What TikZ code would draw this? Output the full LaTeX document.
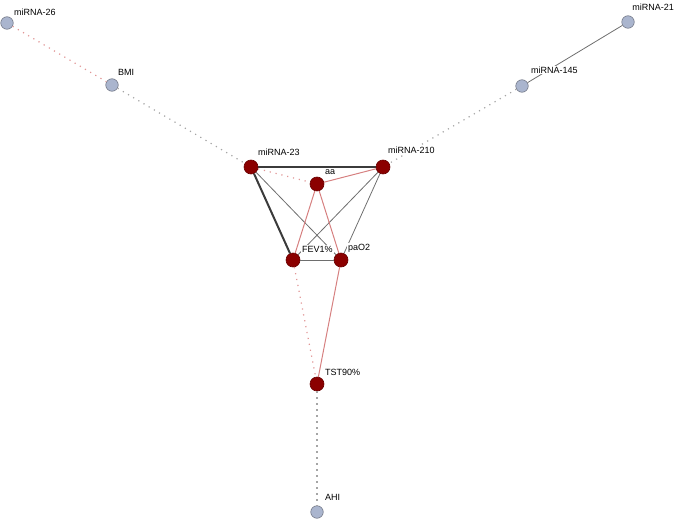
\documentclass[tikz,border=0pt]{standalone}
\usepackage{fontspec}
\setmainfont{Liberation Sans}

\definecolor{corered}{RGB}{139,0,0}
\definecolor{coreline}{RGB}{105,0,0}
\definecolor{leafblue}{RGB}{170,181,206}
\definecolor{leafline}{RGB}{115,120,135}
\definecolor{posline}{RGB}{85,85,85}
\definecolor{negline}{RGB}{214,128,128}
\definecolor{dotpink}{RGB}{225,150,150}
\definecolor{dotgray}{RGB}{165,165,165}

\tikzset{
  core/.style={circle, fill=corered, draw=coreline, line width=0.6pt, minimum size=14pt, inner sep=0pt},
  leaf/.style={circle, fill=leafblue, draw=leafline, line width=0.6pt, minimum size=12.5pt, inner sep=0pt},
  lbl/.style={anchor=west, fill=white, inner sep=1pt, font=\fontsize{9}{11}\selectfont},
  strong/.style={posline!70!black, line width=2pt},
  weak/.style={posline!85!white, line width=0.8pt},
  red edge/.style={negline, line width=1pt},
  pink dots/.style={dotpink, line width=1.2pt, dash pattern=on 1.2pt off 4.8pt},
  gray dots/.style={dotgray, line width=1.2pt, dash pattern=on 1.2pt off 4.8pt}
}

\begin{document}
\begin{tikzpicture}[x=1pt,y=-1pt]

\useasboundingbox (0,0) rectangle (675,519);

% Core variables (red)
\node[core] (mir23) at (251,167) {};
\node[core] (mir210) at (383,167) {};
\node[core] (aa) at (317,184) {};
\node[core] (fev) at (293,260) {};
\node[core] (pao) at (341,260) {};
\node[core] (tst) at (317,384) {};

% Outer variables (blue)
\node[leaf] (mir26) at (7,23) {};
\node[leaf] (bmi) at (112,85) {};
\node[leaf] (mir21) at (628,22) {};
\node[leaf] (mir145) at (522,86) {};
\node[leaf] (ahi) at (317,512) {};

% Edges inside the triangle
\draw[strong] (mir23) -- (mir210);
\draw[strong] (mir23) -- (fev);
\draw[weak] (mir23) -- (pao);
\draw[weak] (mir210) -- (fev);
\draw[weak] (mir210) -- (pao);
\draw[weak] (fev) -- (pao);
\draw[red edge] (mir210) -- (aa);
\draw[red edge] (aa) -- (fev);
\draw[red edge] (aa) -- (pao);
\draw[red edge] (pao) -- (tst);
\draw[pink dots] (mir23) -- (aa);
\draw[pink dots] (fev) -- (tst);

% Branches to the outer nodes
\draw[pink dots] (mir26) -- (bmi);
\draw[gray dots] (bmi) -- (mir23);
\draw[weak] (mir21) -- (mir145);
\draw[gray dots] (mir145) -- (mir210);
\draw[gray dots] (tst) -- (ahi);

% Labels
\node[lbl] (t26) at (13,12) {miRNA-26};
\node[lbl] (tbmi) at (117,72) {BMI};
\node[lbl, anchor=east] (t21) at (675,7) {miRNA-21};
\node[lbl] (t145) at (530,70) {miRNA-145};
\node[lbl] (t23) at (257,152) {miRNA-23};
\node[lbl] (t210) at (387,150) {miRNA-210};
\node[lbl] (taa) at (324,172) {aa};
\node[lbl] (tfev) at (301,249) {FEV1\%};
\node[lbl] (tpao) at (347,248) {paO2};
\node[lbl] (ttst) at (324,372) {TST90\%};
\node[lbl] (tahi) at (324,497) {AHI};

\end{tikzpicture}
\end{document}
